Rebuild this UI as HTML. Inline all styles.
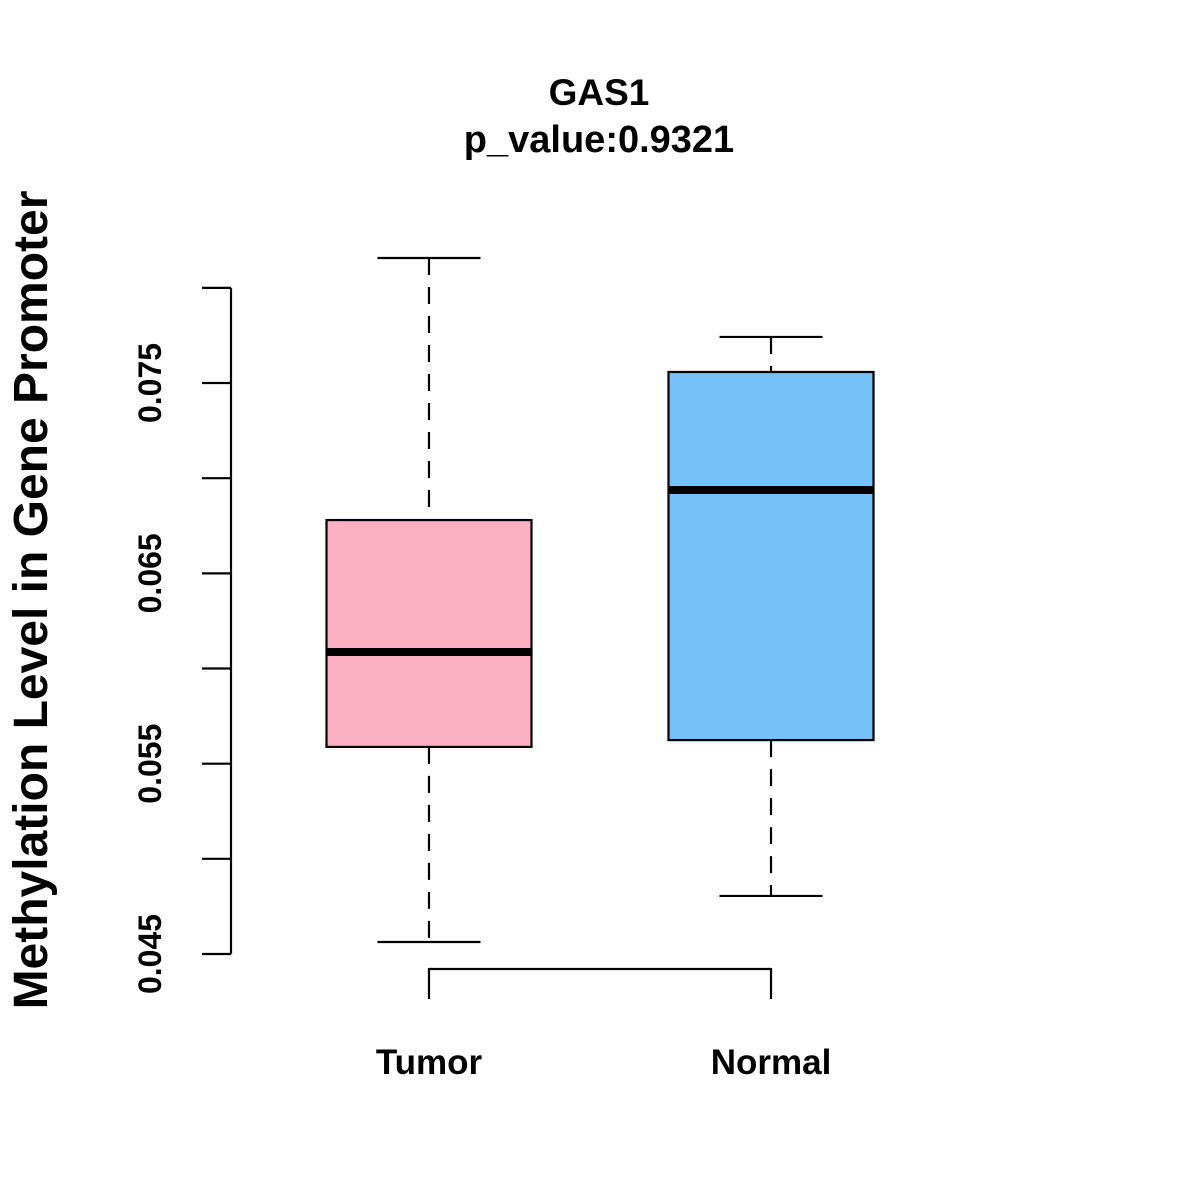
<!DOCTYPE html>
<html><head><meta charset="utf-8"><style>
html,body{margin:0;padding:0;background:#fff}
svg{display:block;font-family:"Liberation Sans",Arial,sans-serif}
</style></head><body>
<svg id="chart" width="1200" height="1200" viewBox="0 0 1200 1200">
<text x="599" y="105" text-anchor="middle" font-size="37" font-weight="bold">GAS1</text>
<text x="599" y="152" text-anchor="middle" font-size="38" font-weight="bold">p_value:0.9321</text>
<text transform="translate(47,600) rotate(-90)" text-anchor="middle" font-size="48" font-weight="bold">Methylation Level in Gene Promoter</text>
<g id="yaxis"></g>
<g id="xaxis"></g>
<g id="boxes"></g>
</svg>
<script>
const categories = ["Tumor", "Normal"];
const maxVals = [0.08157, 0.07742];
const q3Vals = [0.0678, 0.07558];
const medianVals = [0.06087, 0.06938];
const q1Vals = [0.05588, 0.05624];
const minVals = [0.04563, 0.04805];
const fills = ["#FBB1C3", "#77C1F9"];
const yTicks = [0.045, 0.05, 0.055, 0.06, 0.065, 0.07, 0.075, 0.08];
const yLabels = ["0.045", "", "0.055", "", "0.065", "", "0.075", ""];

const NS = "http://www.w3.org/2000/svg";
function y(v){ return 954 - (v - 0.045) * 19033; }
function x(i){ return 429 + i * 342; }
function mk(tag, attrs, parent){
  const e = document.createElementNS(NS, tag);
  for (const k in attrs) e.setAttribute(k, attrs[k]);
  parent.appendChild(e); return e;
}
const ya = document.getElementById("yaxis");
const line1 = mk("line", {x1:231, x2:231, y1:y(yTicks[yTicks.length-1]), y2:y(yTicks[0]), stroke:"#000", "stroke-width":2.2}, ya);


yTicks.forEach((t, i) => {
  const tk = mk("line", {x1:202, x2:231, y1:y(t), y2:y(t), stroke:"#000", "stroke-width":2.2}, ya);
  
  
  if (yLabels[i]) {
    const tx = mk("text", {transform:"translate(161," + y(t) + ") rotate(-90)", "text-anchor":"middle", "font-size":32, "font-weight":"bold"}, ya);
    tx.textContent = yLabels[i];
    
    
  }
});
const xa = document.getElementById("xaxis");
const xl = mk("line", {x1:x(0), x2:x(1), y1:969, y2:969, stroke:"#000", "stroke-width":2.2}, xa);


categories.forEach((c, i) => {
  const tk = mk("line", {x1:x(i), x2:x(i), y1:968, y2:999, stroke:"#000", "stroke-width":2.2}, xa);
  
  
  const tx = mk("text", {x:x(i), y:1074, "text-anchor":"middle", "font-size":35, "font-weight":"bold"}, xa);
  tx.textContent = c;
  
  
});
const bx = document.getElementById("boxes");
categories.forEach((c, i) => {
  const g = mk("g", {}, bx);
  
  
  const cx = x(i), hw = 102.5, cw = 51.5;
  mk("line", {x1:cx, x2:cx, y1:y(maxVals[i]), y2:y(q3Vals[i]), stroke:"#000", "stroke-width":2.2, "stroke-dasharray":"17,12"}, g);
  mk("line", {x1:cx, x2:cx, y1:y(q1Vals[i]), y2:y(minVals[i]), stroke:"#000", "stroke-width":2.2, "stroke-dasharray":"17,12"}, g);
  mk("line", {x1:cx-cw, x2:cx+cw, y1:y(maxVals[i]), y2:y(maxVals[i]), stroke:"#000", "stroke-width":2.2}, g);
  mk("line", {x1:cx-cw, x2:cx+cw, y1:y(minVals[i]), y2:y(minVals[i]), stroke:"#000", "stroke-width":2.2}, g);
  mk("rect", {x:cx-hw, y:y(q3Vals[i]), width:2*hw, height:y(q1Vals[i])-y(q3Vals[i]), fill:fills[i], stroke:"#000", "stroke-width":2.2}, g);
  mk("line", {x1:cx-hw, x2:cx+hw, y1:y(medianVals[i]), y2:y(medianVals[i]), stroke:"#000", "stroke-width":8}, g);
});
</script>
</body></html>
